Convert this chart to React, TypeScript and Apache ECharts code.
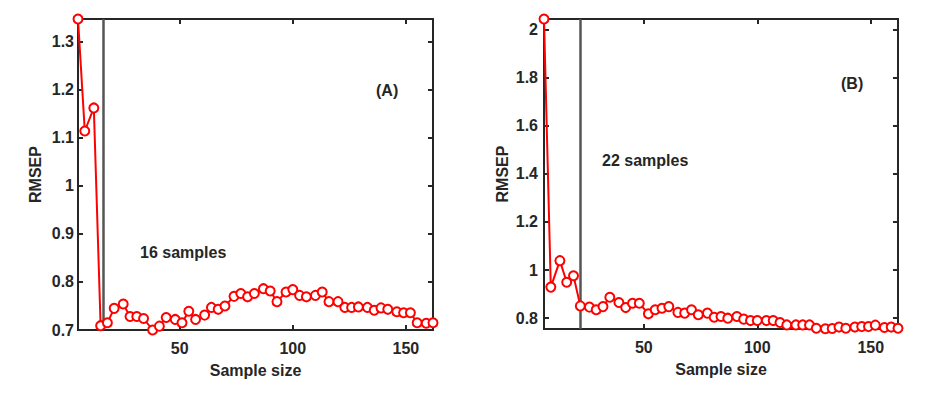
import React, { useEffect, useRef } from "react";
import * as echarts from "echarts";

// Panel A data
const xA = [5, 8, 12, 15, 18, 21, 25, 28, 31, 34, 38, 41, 44, 48, 51, 54, 57, 61, 64, 67, 70, 74, 77, 80, 83, 87, 90, 93, 97, 100, 103, 106, 110, 113, 116, 120, 123, 126, 129, 133, 136, 139, 142, 146, 149, 152, 155, 159, 162];
const yA = [1.347, 1.114, 1.162, 0.709, 0.715, 0.745, 0.754, 0.728, 0.728, 0.724, 0.700, 0.708, 0.726, 0.722, 0.715, 0.739, 0.722, 0.731, 0.747, 0.743, 0.750, 0.770, 0.776, 0.769, 0.776, 0.786, 0.781, 0.759, 0.779, 0.784, 0.772, 0.769, 0.772, 0.779, 0.759, 0.759, 0.747, 0.747, 0.748, 0.747, 0.741, 0.746, 0.743, 0.738, 0.736, 0.736, 0.715, 0.714, 0.715];
// Panel B data
const xB = [6, 9, 13, 16, 19, 22, 26, 29, 32, 35, 39, 42, 45, 48, 52, 55, 58, 61, 65, 68, 71, 74, 78, 81, 84, 87, 91, 94, 97, 100, 104, 107, 110, 113, 117, 120, 123, 126, 130, 133, 136, 139, 143, 146, 149, 152, 156, 159, 162];
const yB = [2.043, 0.929, 1.039, 0.949, 0.976, 0.851, 0.846, 0.835, 0.848, 0.887, 0.865, 0.844, 0.862, 0.862, 0.818, 0.835, 0.841, 0.848, 0.824, 0.821, 0.835, 0.814, 0.821, 0.804, 0.807, 0.800, 0.807, 0.796, 0.790, 0.790, 0.790, 0.790, 0.782, 0.772, 0.772, 0.772, 0.772, 0.758, 0.756, 0.757, 0.763, 0.758, 0.763, 0.765, 0.765, 0.771, 0.761, 0.763, 0.758];

const xTicks = [50, 100, 150];
const yTicksA = [0.7, 0.8, 0.9, 1.0, 1.1, 1.2, 1.3];
const yTicksB = [0.8, 1.0, 1.2, 1.4, 1.6, 1.8, 2.0];
const cutA = 16;
const cutB = 22;
const labelA = "16 samples";
const labelB = "22 samples";

const FONT = "'Liberation Sans', Arial, sans-serif";
const DARK = "#262626";

const fmt = (v: number) => String(Math.round(v * 10) / 10);

function mkX(gridIndex: number, min: number, top: boolean, showName: boolean) {
  return {
    type: "value",
    gridIndex,
    min,
    max: 162,
    position: top ? "top" : "bottom",
    name: showName ? "Sample size" : "",
    nameLocation: "middle",
    nameGap: 32,
    nameTextStyle: { fontFamily: FONT, fontWeight: "bold", fontSize: 16, color: DARK },
    axisLine: { show: false },
    splitLine: { show: false },
    axisTick: { show: true, inside: true, length: 5, customValues: xTicks, lineStyle: { color: DARK, width: 2 } },
    axisLabel: {
      show: !top,
      customValues: xTicks,
      margin: 10,
      fontFamily: FONT,
      fontWeight: "bold",
      fontSize: 16,
      color: DARK,
    },
  };
}

function mkY(gridIndex: number, min: number, max: number, ticks: number[], right: boolean, margin: number, nameGap: number) {
  return {
    type: "value",
    gridIndex,
    min,
    max,
    position: right ? "right" : "left",
    name: right ? "" : "RMSEP",
    nameLocation: "middle",
    nameGap,
    nameTextStyle: { fontFamily: FONT, fontWeight: "bold", fontSize: 16, color: DARK },
    axisLine: { show: false },
    splitLine: { show: false },
    axisTick: { show: true, inside: true, length: 5, customValues: ticks, lineStyle: { color: DARK, width: 2 } },
    axisLabel: {
      show: !right,
      customValues: ticks,
      formatter: (v: number) => fmt(v),
      margin,
      fontFamily: FONT,
      fontWeight: "bold",
      fontSize: 16,
      color: DARK,
    },
  };
}

function mkSeries(xs: number[], ys: number[], xi: number, yi: number, cut: number) {
  return {
    type: "line",
    xAxisIndex: xi,
    yAxisIndex: yi,
    data: xs.map((x, i) => [x, ys[i]]),
    clip: false,
    symbol: "circle",
    symbolSize: 9,
    showAllSymbol: true,
    lineStyle: { color: "#ff0000", width: 2 },
    itemStyle: { color: "#ffffff", borderColor: "#ff0000", borderWidth: 2 },
    z: 3,
    markLine: {
      silent: true,
      symbol: "none",
      label: { show: false },
      lineStyle: { color: "#555555", width: 2.5, type: "solid", opacity: 1 },
      data: [{ xAxis: cut }],
      z: 2,
    },
  };
}

export default function App() {
  const ref = useRef<HTMLDivElement>(null);
  useEffect(() => {
    if (!ref.current) return;
    const chart = echarts.init(ref.current, undefined, { renderer: "svg" });
    const txt = (text: string, x: number, y: number) => ({
      type: "text",
      x,
      y,
      style: { text, fontFamily: FONT, fontWeight: "bold", fontSize: 16, fill: DARK, textAlign: "left", textVerticalAlign: "middle" },
      z: 10,
    });
    chart.setOption({
      animation: false,
      backgroundColor: "#ffffff",
      grid: [
        { left: 78, top: 19, width: 355, height: 311, show: true, borderColor: DARK, borderWidth: 2, backgroundColor: "transparent" },
        { left: 544, top: 19, width: 354, height: 310, show: true, borderColor: DARK, borderWidth: 2, backgroundColor: "transparent" },
      ],
      xAxis: [mkX(0, 5, false, true), mkX(0, 5, true, false), mkX(1, 6, false, true), mkX(1, 6, true, false)],
      yAxis: [
        mkY(0, 0.7, 1.347, yTicksA, false, 4, 35),
        mkY(0, 0.7, 1.347, yTicksA, true, 4, 35),
        mkY(1, 0.755, 2.043, yTicksB, false, 6, 34),
        mkY(1, 0.755, 2.043, yTicksB, true, 6, 34),
      ],
      series: [mkSeries(xA, yA, 0, 0, cutA), mkSeries(xB, yB, 2, 2, cutB)],
      graphic: [
        txt("(A)", 376, 90),
        txt(labelA, 140, 252),
        txt("(B)", 841, 83),
        txt(labelB, 602, 160),
      ],
    });
    return () => chart.dispose();
  }, []);
  return <div ref={ref} style={{ position: "fixed", left: 0, top: 0, width: 933, height: 393 }} />;
}
